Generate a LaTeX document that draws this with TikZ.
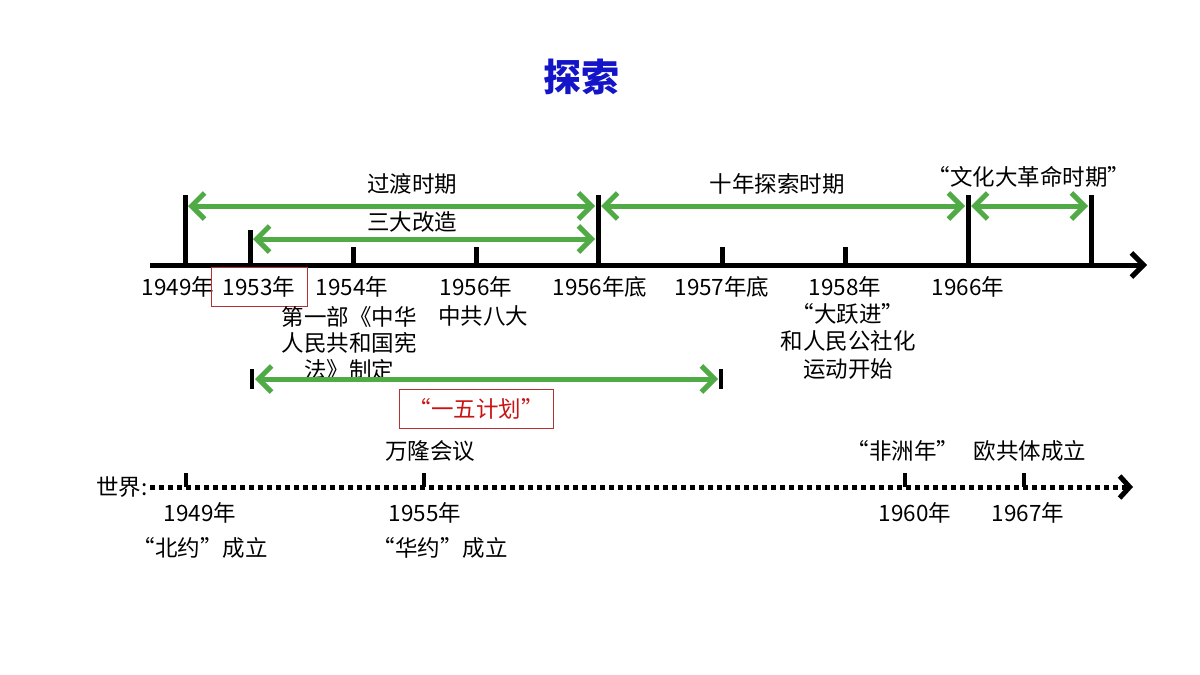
\documentclass[tikz,border=0pt]{standalone}
\usepackage{fontspec}
\setmainfont{Noto Sans CJK SC}
\usepackage{tikz}
\usetikzlibrary{arrows.meta,positioning,calc}

\definecolor{periodgreen}{RGB}{80,170,70}
\definecolor{boxred}{RGB}{180,50,50}
\definecolor{textred}{RGB}{200,20,20}
\definecolor{titleblue}{RGB}{20,20,200}

\tikzset{
  axisline/.style={line width=5pt},
  tickline/.style={line width=5pt},
  period/.style={periodgreen,line width=5pt,
    {Straight Barb[length=13pt,width=26pt,line width=5pt]}-{Straight Barb[length=13pt,width=26pt,line width=5pt]}},
  lbl/.style={font=\fontsize{22.5}{27}\selectfont,inner sep=0pt},
  redbox/.style={draw=boxred,line width=0.9pt,minimum height=39pt},
}

\begin{document}
\begin{tikzpicture}[x=1pt,y=-1pt]
  \useasboundingbox (0,0) rectangle (1200,675);
  % 标题
  \node[font=\fontsize{38}{44}\selectfont\bfseries,text=titleblue] (title) at (581,77) {探索};

  % 中国主轴
  \coordinate (axL) at (150,265);
  \coordinate (axR) at (1147,265);
  \draw[axisline,-{Straight Barb[length=12pt,width=24pt,line width=5pt]}] (axL) -- (axR);

  % 刻度
  \coordinate (t49) at (185,265);   \coordinate (t49u) at (185,195);
  \coordinate (t53) at (250,265);   \coordinate (t53u) at (250,230);
  \coordinate (t54) at (353,265);   \coordinate (t54u) at (353,247);
  \coordinate (t56) at (476,265);   \coordinate (t56u) at (476,247);
  \coordinate (t56e) at (598,265);  \coordinate (t56eu) at (598,195);
  \coordinate (t57e) at (722,265);  \coordinate (t57eu) at (722,247);
  \coordinate (t58) at (845,265);   \coordinate (t58u) at (845,247);
  \coordinate (t66) at (968,265);   \coordinate (t66u) at (968,195);
  \coordinate (tend) at (1091,265); \coordinate (tendu) at (1091,195);
  \draw[tickline] (t49) -- (t49u);
  \draw[tickline] (t53) -- (t53u);
  \draw[tickline] (t54) -- (t54u);
  \draw[tickline] (t56) -- (t56u);
  \draw[tickline] (t56e) -- (t56eu);
  \draw[tickline] (t57e) -- (t57eu);
  \draw[tickline] (t58) -- (t58u);
  \draw[tickline] (t66) -- (t66u);
  \draw[tickline] (tend) -- (tendu);

  % 时期
  \coordinate (p1a) at (188,206);  \coordinate (p1b) at (595,206);
  \coordinate (p2a) at (253,239);  \coordinate (p2b) at (595,239);
  \coordinate (p3a) at (601,206);  \coordinate (p3b) at (965,206);
  \coordinate (p4a) at (971,206);  \coordinate (p4b) at (1088,206);
  \draw[period] (p1a) -- (p1b);
  \draw[period] (p2a) -- (p2b);
  \draw[period] (p3a) -- (p3b);
  \draw[period] (p4a) -- (p4b);
  \node[lbl] (guodu) at (412,184) {过渡时期};
  \node[lbl] (sanda) at (412,222) {三大改造};
  \node[lbl] (shinian) at (777,184) {十年探索时期};
  \node[lbl] (wenge) at (1029,177) {“文化大革命时期”};

  % 年份
  \node[lbl] (y49) at (178,287) {1949年};
  \node[lbl,redbox,minimum width=96pt] (y53) at (259,286.5) {1953年};
  \node[lbl] (y54) at (352,287) {1954年};
  \node[lbl] (y56) at (476,287) {1956年};
  \node[lbl] (y56e) at (600,287) {1956年底};
  \node[lbl] (y57e) at (722,287) {1957年底};
  \node[lbl] (y58) at (845,287) {1958年};
  \node[lbl] (y66) at (968,287) {1966年};

  % 事件
  \node[lbl,align=center,font=\fontsize{22.5}{26.5}\selectfont] (xianfa) at (349,343) {第一部《中华\\人民共和国宪\\法》制定};
  \node[lbl] (bada) at (483,316) {中共八大};
  \node[lbl,align=center,font=\fontsize{22.5}{27.5}\selectfont] (yuejin) at (848,341) {“大跃进”\\和人民公社化\\运动开始};

  % 一五计划
  \coordinate (w1) at (252,379);  \coordinate (w2) at (721,379);
  \draw[tickline,line width=4pt] ($(w1)+(0,-10)$) -- ($(w1)+(0,10)$);
  \draw[tickline,line width=4pt] ($(w2)+(0,-10)$) -- ($(w2)+(0,10)$);
  \draw[period] ($(w1)+(3,0)$) -- ($(w2)+(-3,0)$);
  \node[lbl,redbox,minimum width=154pt,text=textred] (yiwu) at (476,408.5) {“一五计划”};

  % 世界
  \node[lbl] (shijie) at (122,487) {世界:};
  \coordinate (wL) at (150,487);
  \coordinate (wR) at (1133,487);
  \draw[line width=5pt,dash pattern=on 5pt off 4pt] (wL) -- ($(wR)+(-10,0)$);
  \draw[line width=5pt,-{Straight Barb[length=10pt,width=22pt,line width=5pt]}] ($(wR)+(-10,0)$) -- (wR);
  \coordinate (s49) at (186,487);  \coordinate (s55) at (424,487);
  \coordinate (s60) at (905,487);  \coordinate (s67) at (1024,487);
  \draw[tickline,line width=4pt] (s49) -- ($(s49)+(0,-14)$);
  \draw[tickline,line width=4pt] (s55) -- ($(s55)+(0,-14)$);
  \draw[tickline,line width=4pt] (s60) -- ($(s60)+(0,-14)$);
  \draw[tickline,line width=4pt] (s67) -- ($(s67)+(0,-14)$);
  \node[lbl] (wanlong) at (430,451) {万隆会议};
  \node[lbl] (feizhou) at (903,451) {“非洲年”};
  \node[lbl] (ougong) at (1030,451) {欧共体成立};
  \node[lbl] (x49) at (200,513) {1949年};
  \node[lbl] (x55) at (425,513) {1955年};
  \node[lbl] (x60) at (915,513) {1960年};
  \node[lbl] (x67) at (1028,513) {1967年};
  \node[lbl] (beiyue) at (200,548) {“北约”成立};
  \node[lbl] (huayue) at (440,548) {“华约”成立};
\end{tikzpicture}
\end{document}
